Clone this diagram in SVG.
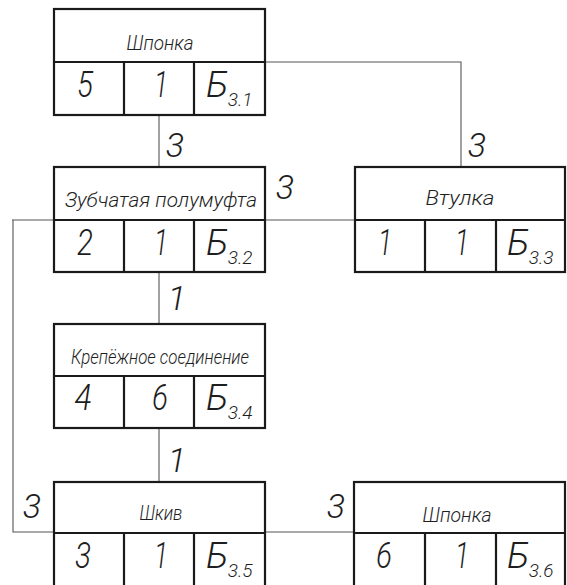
<svg xmlns="http://www.w3.org/2000/svg" width="567" height="585" viewBox="0 0 567 585">
<style>
.box{fill:#fff;stroke:#1a1a1a;stroke-width:2.2}
.div{stroke:#1a1a1a;stroke-width:2.2;fill:none}
.con{stroke:#555;stroke-width:1.1;fill:none}
text{font-family:Roboto,"Liberation Sans",sans-serif;font-style:italic;font-weight:300;fill:#1e1e1e}
.t{font-size:21px;text-anchor:middle}
.n{font-size:37px;text-anchor:middle}
.b{font-size:37px}
.s{font-size:19px}
.l{font-size:34px;text-anchor:middle}
</style>
<rect width="567" height="585" fill="#fff"/>
<g id="connectors">
<path class="con" d="M159 115V167M159 272V324M159 428V482"/>
<path class="con" d="M265 62H461V167"/>
<path class="con" d="M12 220H355"/>
<path class="con" d="M13 220V532H353"/>
<text class="l" x="175" y="157">3</text>
<text class="l" x="477" y="157">3</text>
<text class="l" x="285" y="199">3</text>
<text class="l" x="177" y="310">1</text>
<text class="l" x="177" y="472">1</text>
<text class="l" x="32" y="518">3</text>
<text class="l" x="336" y="518">3</text>
</g>
<g id="node1">
<rect class="box" x="54" y="9" width="211" height="106"/>
<path class="div" d="M54 62H265M124 62V115M194 62V115"/>
<text class="t" x="160" y="50" textLength="67" lengthAdjust="spacingAndGlyphs">Шпонка</text>
<text class="n" x="85" y="97" textLength="16" lengthAdjust="spacingAndGlyphs">5</text>
<text class="n" x="161" y="97" textLength="14" lengthAdjust="spacingAndGlyphs">1</text>
<text class="b" x="206" y="97">Б<tspan class="s" dx="-1" dy="9">3.1</tspan></text>
</g>
<g id="node2">
<rect class="box" x="54" y="167" width="211" height="105"/>
<path class="div" d="M54 220H265M124 220V272M194 220V272"/>
<text class="t" x="161" y="207" textLength="192" lengthAdjust="spacingAndGlyphs">Зубчатая полумуфта</text>
<text class="n" x="85" y="255" textLength="16" lengthAdjust="spacingAndGlyphs">2</text>
<text class="n" x="161" y="255" textLength="14" lengthAdjust="spacingAndGlyphs">1</text>
<text class="b" x="206" y="255">Б<tspan class="s" dx="-1" dy="9">3.2</tspan></text>
</g>
<g id="node3">
<rect class="box" x="355" y="167" width="210" height="105"/>
<path class="div" d="M355 220H565M425 220V272M496 220V272"/>
<text class="t" x="460" y="205" textLength="69" lengthAdjust="spacingAndGlyphs">Втулка</text>
<text class="n" x="385" y="255" textLength="14" lengthAdjust="spacingAndGlyphs">1</text>
<text class="n" x="462" y="255" textLength="14" lengthAdjust="spacingAndGlyphs">1</text>
<text class="b" x="507" y="255">Б<tspan class="s" dx="-1" dy="9">3.3</tspan></text>
</g>
<g id="node4">
<rect class="box" x="54" y="324" width="211" height="104"/>
<path class="div" d="M54 376H265M124 376V428M194 376V428"/>
<text class="t" x="160" y="364" textLength="178" lengthAdjust="spacingAndGlyphs">Крепёжное соединение</text>
<text class="n" x="83" y="410" textLength="17" lengthAdjust="spacingAndGlyphs">4</text>
<text class="n" x="160" y="410" textLength="16" lengthAdjust="spacingAndGlyphs">6</text>
<text class="b" x="206" y="410">Б<tspan class="s" dx="-1" dy="9">3.4</tspan></text>
</g>
<g id="node5">
<rect class="box" x="54" y="482" width="211" height="110"/>
<path class="div" d="M54 533H265M124 533V592M194 533V592"/>
<text class="t" x="161" y="520" textLength="43" lengthAdjust="spacingAndGlyphs">Шкив</text>
<text class="n" x="83" y="568" textLength="16" lengthAdjust="spacingAndGlyphs">3</text>
<text class="n" x="161" y="568" textLength="14" lengthAdjust="spacingAndGlyphs">1</text>
<text class="b" x="206" y="568">Б<tspan class="s" dx="-1" dy="9">3.5</tspan></text>
</g>
<g id="node6">
<rect class="box" x="354" y="482" width="211" height="110"/>
<path class="div" d="M354 533H565M425 533V592M496 533V592"/>
<text class="t" x="457" y="522" textLength="69" lengthAdjust="spacingAndGlyphs">Шпонка</text>
<text class="n" x="384" y="568" textLength="16" lengthAdjust="spacingAndGlyphs">6</text>
<text class="n" x="462" y="568" textLength="14" lengthAdjust="spacingAndGlyphs">1</text>
<text class="b" x="507" y="568">Б<tspan class="s" dx="-1" dy="9">3.6</tspan></text>
</g>
</svg>
